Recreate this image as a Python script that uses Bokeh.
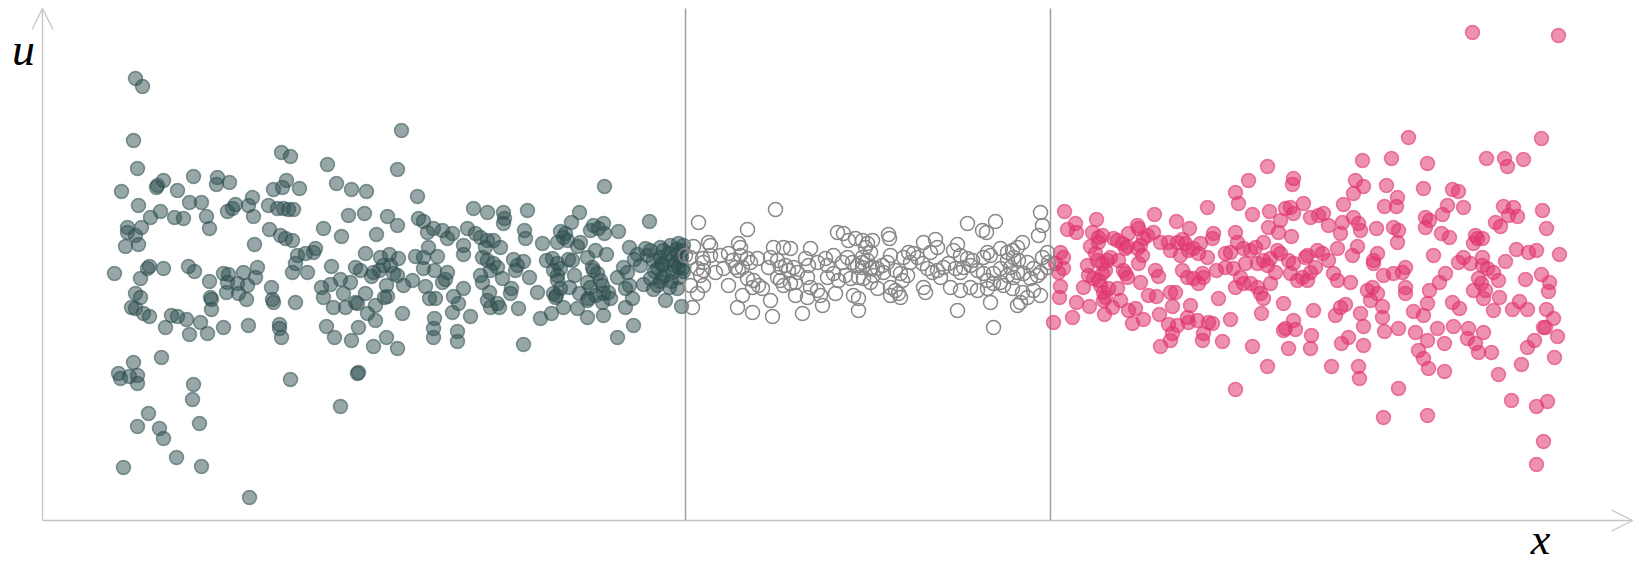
from bokeh.plotting import figure
from bokeh.models import Range1d, Arrow, OpenHead, Label
from bokeh.embed import file_html
from bokeh.resources import INLINE

# Samples of u(x) in three regions: left (x < 643), centre (643..1008), right (x > 1008)
x_left = [
    93, 100, 91, 95, 79, 114, 115, 121, 135, 151, 175, 174, 187, 96, 108, 118, 132, 141, 147, 159,
    164, 167, 185, 190, 193, 210, 206, 211, 85, 85, 93, 99, 83, 96, 212, 227, 238, 243, 250, 239,
    248, 244, 231, 240, 257, 226, 235, 241, 246, 251, 255,
    72, 98, 105, 107, 121, 146, 152, 167, 181, 186, 184, 185, 195, 201, 205, 213, 215, 196, 204, 168,
    169, 169, 93, 98, 89, 93, 101, 107, 129, 135, 144, 158, 123, 147, 165, 181, 206, 229, 230, 231,
    253, 253, 250, 237, 237, 239, 119, 91, 76, 78, 87, 95, 95, 151, 150, 248, 106, 95, 117, 121,
    157, 134, 81, 159, 207,
    359, 355, 285, 294, 309, 324, 375, 306, 322, 345, 355, 281, 299, 334, 431, 445, 376, 381, 385, 391,
    400, 405, 410, 425, 433, 438, 445, 443, 421, 421, 263, 271, 273, 265, 289, 323, 338, 347, 356, 373,
    381, 386, 395, 381, 392, 405, 279, 281, 288, 298, 301, 308, 313, 318, 329, 331, 337, 341, 348, 355,
    351, 344, 361, 370, 383, 400, 403, 421, 438, 440, 445, 342, 345, 323, 313, 315, 291, 303, 325, 333,
    333, 360, 387, 393, 411, 416, 410, 428, 392, 391, 391, 415, 415, 284, 292, 316, 309, 331, 344, 355,
    315, 316, 298,
    562, 607, 461, 462, 461, 485, 482, 483, 537, 529, 518, 523, 525, 521, 551, 548, 561, 562, 556, 576,
    500, 515, 538, 535, 553, 564, 587, 595, 592, 451, 458, 440, 445, 451, 455, 448, 460, 471, 481, 475,
    473, 487, 504, 510, 515, 511, 518, 526, 530, 545, 550, 551, 555, 515, 515, 518, 514, 532, 527, 537,
    545, 548, 558, 560, 561, 566, 553, 546, 545, 575, 581, 585, 583, 587, 590, 601, 611, 618, 621, 620,
    615, 625, 635, 638, 608, 618, 620, 615, 635, 623, 639, 447, 455, 448, 457, 469, 468, 476, 495, 511,
    513, 521, 535, 545, 560, 568, 561, 583, 509, 498, 591, 575, 481, 603, 608, 628, 633, 640, 640, 598,
    630, 636,
    605, 612, 618, 622, 626, 629, 632, 634, 637, 639, 641, 641, 627, 611, 619, 636,
]
u_left = [
    189, 181, 127, 99, 76, 80, 82, 87, 77, 91, 90, 83, 85, 62, 50, 56, 50, 49, 65, 65,
    51, 39, 56, 59, 63, 70, 62, 51, 40, 35, 32, 40, 21, 23, 23, 38, 32, 29, 27, 115,
    111, 87, 78, 80, 79, 62, 59, 59, 58, 58, 12,
    -6, -11, -1, 1, -1, 1, -4, -14, -6, -7, -25, -15, -16, -5, -18, -10, 0, -26, -32, -30,
    -32, -42, -26, -30, -40, -41, -46, -49, -48, -49, -52, -55, -60, -67, -66, -60, -58, -20, -32, -35,
    -35, 4, -5, -57, -61, -70, -90, -95, -106, -111, -109, -108, -116, -117, -132, -112, -146, -159, -161, -171,
    -156, -190, -200, -199, -230,
    137, 98, 103, 84, 78, 76, 71, 52, 54, 51, 42, 39, 31, 33, 59, 55, 49, 46, 35, 39,
    37, 29, 34, 39, 34, 30, 27, 20, 22, 13, 14, 15, 19, -5, 1, 14, 10, 13, 9, 11,
    10, 20, 11, -1, -3, -5, -20, -30, -17, -12, -26, -15, 0, -3, -9, -5, -3, 2, 2, -8,
    -6, -18, -18, -13, -19, -15, -12, -21, -8, -15, -33, -30, -29, -26, -35, -36, -40, -40, -46, -38,
    -53, -46, -31, -31, -29, -36, -45, -49, -51, -61, -70, -64, -74, -59, -70, -60, -73, -79, -70, -81,
    -106, -105, -139,
    81, 46, 55, 49, 44, 57, 37, 29, 55, 45, 36, 34, 27, 30, 42, 37, 44, 34, 39, 36,
    24, 25, 25, 21, 17, 13, 20, 13, 8, 27, 20, 10, 7, 4, 0, -3, -11, 8, 6, 2,
    -3, -10, 7, 9, 4, -3, -1, 8, 7, 10, 0, -3, -6, -8, -13, -21, -28, -8, -20, -26,
    -15, -20, -13, -18, -26, -25, -28, -31, -33, -10, 0, -5, -21, -18, -31, -17, 7, 10, 17, 2,
    -1, 7, 14, 7, -11, -14, -10, -18, -21, -33, -39, -25, -36, -40, -40, -21, -26, -41, -25, -26,
    -30, -40, -41, -50, -35, -31, -48, -40, -46, -51, -58, -70, -77, 19, 17, 22, 5, 17, -1, 2,
    -5, 24,
    12, -4, 20, -8, 14, -14, 2, 18, -10, 10, -4, 22, -20, -22, 4, 0,
]

x_mid = [
    733, 656, 705, 795, 801, 806, 813, 820, 825, 666, 668, 651, 696, 698, 731, 741, 748, 768, 643, 648,
    660, 668, 661, 678, 686, 690, 698, 705, 708, 715, 728, 735, 726, 738, 743, 746, 751, 755, 763, 766,
    775, 783, 785, 791, 800, 805, 810, 815, 820, 825, 828, 655, 661, 658, 673, 681, 693, 696, 700, 705,
    711, 716, 710, 720, 735, 738, 741, 748, 753, 765, 768, 775, 785, 791, 796, 803, 808, 816, 821, 648,
    661, 655, 686, 700, 728, 753, 765, 778, 780, 793, 811, 816, 695, 710, 730, 760, 816, 650,
    925, 940, 944, 953, 998, 1000, 996, 846, 847, 830, 823, 828, 820, 820, 830, 881, 893, 895, 888, 915,
    911, 918, 925, 930, 861, 866, 871, 875, 868, 848, 845, 840, 835, 841, 831, 828, 853, 858, 865, 860,
    880, 885, 890, 895, 901, 898, 906, 913, 918, 921, 928, 935, 941, 945, 948, 941, 958, 965, 970, 975,
    980, 971, 976, 965, 968, 975, 965, 971, 981, 958, 951, 945, 951, 958, 985, 991, 995, 988, 998, 1005,
    1006, 1005, 1000, 835, 848, 853, 856, 848, 858, 881, 883, 908, 918, 928, 935, 945, 961, 970, 980, 991,
    985, 998, 915, 948, 975, 978, 951,
]
u_mid = [
    58, 45, 38, 35, 34, 27, 29, 27, 24, 25, 22, 21, 24, 20, 20, 20, 19, 19, 12, 10,
    9, 12, 5, 12, 14, 7, 12, 9, 5, 9, 10, 7, 0, 0, 2, -3, 0, -5, 9, 2,
    5, 9, 2, 12, 5, 10, 5, 2, 5, 7, -1, -1, -3, -8, -5, -1, 0, -3, 0, -11,
    -13, -18, -20, -21, -10, -13, -18, -16, -15, -10, -20, -23, -10, -6, -13, -8, -11, -10, -11, -18,
    -18, -26, -18, -28, -33, -28, -30, -28, -38, -26, -28, -31, -40, -45, -49, -46, -43, -40,
    44, 37, 35, 46, 55, 42, 32, 33, 29, 27, 20, 15, 10, 0, 0, 25, 28, 20, 15, 23,
    17, 12, 9, 7, 10, 15, 14, 10, 5, 12, 5, 2, -1, -5, -8, -15, -3, -6, -8, -13,
    4, -1, -5, -3, 0, -10, 4, -1, -5, 0, 2, -3, -6, 15, 12, 10, 19, 15, 17, 20,
    25, 10, 7, 7, 0, -5, -8, -10, -6, -1, -6, -13, -16, -15, 5, -1, -8, -11, -5, 0,
    5, 15, 10, -21, -20, -23, -26, -28, -30, -20, -25, -20, -23, -20, -23, -21, -18, -21, -25, -23,
    -30, -28, -43, -35, -38, -35, -60,
]

x_right = [
    1022, 1025, 1033, 1034, 1054, 1050, 1056, 1060, 1048, 1053, 1056, 1018, 1021, 1013, 1021, 1016, 1018, 1017, 1011, 1030,
    1034, 1047, 1041, 1045, 1046, 1051, 1056, 1060, 1063, 1065, 1068, 1055, 1060, 1058, 1061, 1061, 1063, 1066, 1062, 1070,
    1078, 1075, 1075, 1071, 1080, 1085, 1083, 1086, 1095, 1096, 1101, 1098, 1095, 1100, 1076, 1081, 1083, 1085, 1096, 1098,
    1105, 1111, 1112, 1118, 1126, 1113, 1116, 1106, 1114, 1086, 1093, 1101, 1090, 1117, 1118, 1126, 1130, 1128, 1135, 1128,
    1133, 1130, 1134, 1128, 1138, 1135, 1140, 1143, 1147, 1146, 1151, 1156, 1158, 1165, 1165, 1140, 1145, 1151, 1156, 1161,
    1160, 1148, 1145, 1146, 1155, 1166, 1170, 1161, 1160, 1180, 1176, 1188, 1171, 1170, 1174, 1183, 1183, 1188, 1193, 1196,
    1193, 1195, 1191, 1193, 1193,
    1366, 1320, 1349, 1385, 1225, 1206, 1251, 1250, 1313, 1321, 1311, 1344, 1355, 1354, 1342, 1381, 1301, 1261, 1243, 1248,
    1251, 1227, 1210, 1268, 1276, 1281, 1286, 1300, 1298, 1311, 1316, 1318, 1334, 1351, 1356, 1355, 1383, 1383, 1387, 1226,
    1238, 1236, 1249, 1221, 1201, 1208, 1213, 1203, 1215, 1221, 1225, 1228, 1235, 1238, 1246, 1251, 1263, 1265, 1275, 1280,
    1286, 1295, 1310, 1315, 1331, 1331, 1335, 1198, 1201, 1208, 1215, 1218, 1221, 1228, 1233, 1248, 1255, 1260, 1265, 1268,
    1273, 1291, 1295, 1308, 1325, 1330, 1335, 1328, 1341, 1351, 1360, 1363, 1363, 1363, 1387, 1241, 1219, 1271, 1293, 1298,
    1303, 1318, 1321, 1340, 1340, 1342, 1356, 1371, 1381, 1385, 1243, 1251, 1253, 1241, 1269, 1268, 1246, 1299, 1306, 1321,
    1373, 1385, 1376, 1381, 1386, 1210, 1225, 1289, 1316, 1317, 1356, 1341, 1385,
    1430, 1516, 1499, 1444, 1462, 1465, 1481, 1410, 1416, 1405, 1400, 1421, 1461, 1471, 1466, 1475, 1453, 1458, 1500, 1504,
    1399, 1407, 1433, 1435, 1440, 1431, 1391, 1416, 1421, 1428, 1440, 1440, 1445, 1451, 1456, 1463, 1474, 1486, 1494, 1517,
    1403, 1397, 1436, 1439, 1431, 1443, 1441, 1457, 1483, 1499, 1507, 1506, 1410, 1417, 1451, 1470, 1477, 1485, 1504, 1511,
    1501, 1503, 1515, 1395, 1411, 1426, 1425, 1433, 1441, 1436, 1449, 1402, 1402, 1485, 1492, 1512, 1479, 1456, 1469, 1494,
    1505, 1501, 1494,
]
u_right = [
    56, 38, 44, 35, 48, 35, 30, 32, 21, 14, 25, 15, 10, 4, -1, -5, -19, -30, -55, -50,
    -35, -39, -20, 2, -8, -11, -13, -6, -3, 7, 10, 7, 4, -18, -25, -33, -30, -21, -47, -40,
    -33, -21, 27, 29, 24, 21, 19, 34, 42, 39, 29, 22, 19, 12, 7, -3, -6, -10, 4, -15,
    32, 35, 53, 25, 25, -3, -9, -28, -29, -43, -41, -52, -56, -47, -79, -57, -66, -73, -58, -25,
    -25, -39, 46, 17, 12, 25, 28, 24, 39, 17, 19, 14, 24, 10, 60, -3, -10, -11, -16, -10,
    -6, -38, -50, -55, -53, -55, -56, -66, -73, -74, -31, -52, 34, 29, -3, 0, 14, 15, 75, 64,
    35, 25, -1, -20, -122,
    130, 107, 109, 104, 101, 87, 89, 83, 87, 81, 74, 82, 70, 61, 61, 79, 63, 64, 59, 60,
    54, 56, 53, 50, 52, 54, 42, 45, 34, 50, 44, 37, 39, 40, 37, 25, 50, 40, 47, 40,
    47, 35, 31, 25, 19, 17, 20, 4, 4, 7, 2, 9, 17, 14, 7, 4, 10, 12, 17, 14,
    7, 19, 12, 21, 7, 4, 14, -10, -16, -16, -20, -26, -31, -16, -5, -6, -13, -10, -13, -5,
    0, -6, -13, -15, -23, -20, -26, -33, -8, -6, -5, 0, -20, -26, -23, -36, -46, -43, -48, -40,
    -37, -46, -59, -39, -50, -64, -61, -44, -48, -36, -61, -53, -62, -63, -68, -81, -81, -76, -70, -78,
    -65, -73, -83, -91, -101, -79, -99, -99, -99, -111, -121, -150, -148,
    235, 232, 129, 109, 109, 101, 108, 78, 76, 62, 53, 60, 61, 60, 52, 51, 45, 41, 57, 39,
    34, 30, 32, 29, 29, 24, 12, 5, 10, 4, 10, 2, -1, -5, -13, 6, 18, 15, 17, 13,
    -6, -15, -11, -16, -23, -23, -31, -30, -12, -7, -15, -24, -35, -41, -43, -42, -34, -42, -42, -51,
    -60, -60, -69, -61, -59, -61, -71, -76, -65, -85, -85, -76, -104, -80, -73, -90, -97, -107, -133, -139,
    -134, -174, -197,
]

# region boundaries and axis extents
x_bounds = [643, 1008]
x_axis_end = 1590
u_floor, u_top = -253, 259

for xs, us in ((x_left, u_left), (x_mid, u_mid), (x_right, u_right)):
    if len(xs) != len(us):
        raise ValueError("x/u length mismatch")

p = figure(width=1639, height=565, x_range=Range1d(-42, 1597), y_range=Range1d(-298, 267),
           x_axis_type=None, y_axis_type=None, toolbar_location=None,
           output_backend="svg", min_border=0)
p.outline_line_color = None
p.background_fill_color = "white"
p.border_fill_color = "white"

axis_color = "#c4c4c4"

# boundaries between the regions
p.segment(x0=x_bounds, y0=[u_floor] * 2, x1=x_bounds, y1=[u_top] * 2,
          line_color="#9e9e9e", line_width=1.5)

# axes with open arrowheads
p.add_layout(Arrow(end=OpenHead(size=21, line_color=axis_color, line_width=1.3),
                   x_start=0, y_start=u_floor, x_end=0, y_end=u_top,
                   line_color=axis_color, line_width=1.3))
p.add_layout(Arrow(end=OpenHead(size=21, line_color=axis_color, line_width=1.3),
                   x_start=0, y_start=u_floor, x_end=x_axis_end, y_end=u_floor,
                   line_color=axis_color, line_width=1.3))

p.scatter(x_left, u_left, size=14, fill_color="#2f4f4f", fill_alpha=0.5,
          line_color="#2f4f4f", line_alpha=0.55, line_width=1.5)
p.scatter(x_right, u_right, size=14, fill_color="#e0356f", fill_alpha=0.55,
          line_color="#e0356f", line_alpha=0.6, line_width=1.5)
p.scatter(x_mid, u_mid, size=14, fill_color=None,
          line_color="#888888", line_width=1.5)

p.add_layout(Label(x=-19, y=218, text="u", text_font="Liberation Serif",
                   text_font_style="italic", text_font_size="46px",
                   text_align="center", text_baseline="alphabetic", text_color="black"))
p.add_layout(Label(x=1498, y=-272, text="x", text_font="Liberation Serif",
                   text_font_style="italic", text_font_size="44px",
                   text_align="center", text_baseline="alphabetic", text_color="black"))

open("out.html", "w").write(file_html(p, INLINE))
